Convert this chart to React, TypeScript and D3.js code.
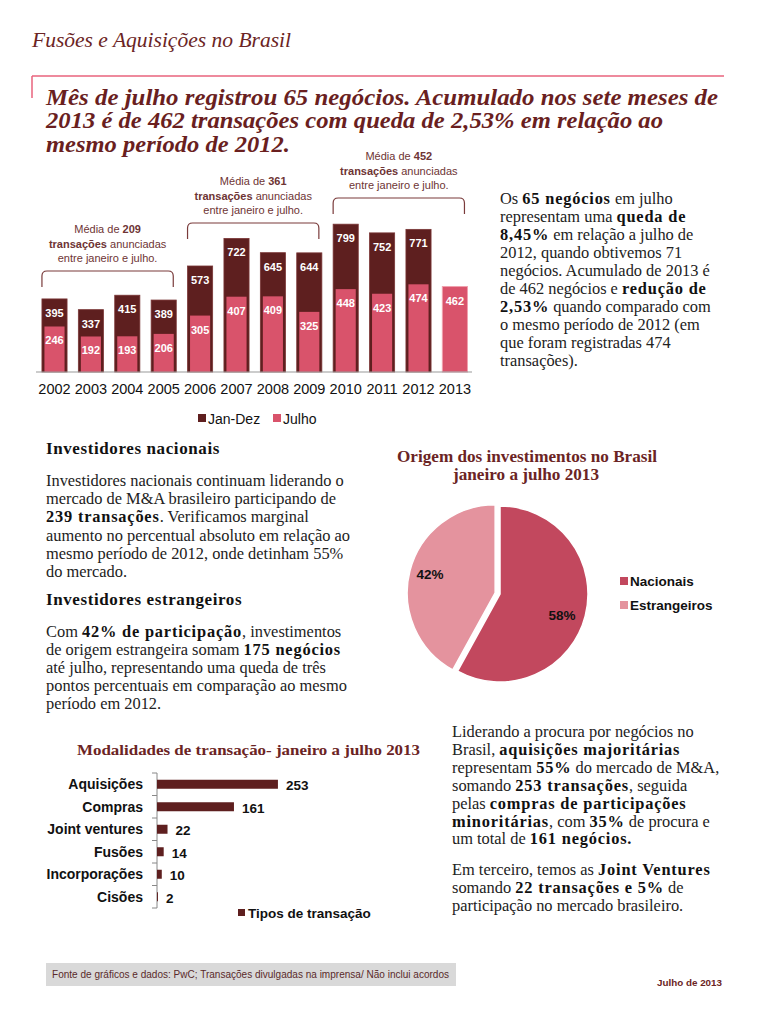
import React from "react";
import * as d3 from "d3";

const years = ["2002","2003","2004","2005","2006","2007","2008","2009","2010","2011","2012","2013"];
const janDez: (number | null)[] = [395,337,415,389,573,722,645,644,799,752,771,null];
const julho = [246,192,193,206,305,407,409,325,448,423,474,462];
const groupAverages = [209, 361, 452];
const groupStart = ["2002","2006","2010"];
const groupEnd = ["2005","2009","2013"];

const pieLabels = ["Nacionais","Estrangeiros"];
const pieValues = [58, 42];

const tipos = ["Aquisições","Compras","Joint ventures","Fusões","Incorporações","Cisões"];
const tiposValues = [253,161,22,14,10,2];

type Seg = [string, boolean?];
const rightPara: Seg[][] = [
  [["Os "],["65 negócios",true],[" em julho"]],
  [["representam uma "],["queda de",true]],
  [["8,45%",true],[" em relação a julho de"]],
  [["2012, quando obtivemos 71"]],
  [["negócios. Acumulado de 2013 é"]],
  [["de 462  negócios e  "],["redução de",true]],
  [["2,53%",true],[" quando comparado com"]],
  [["o mesmo período de 2012 (em"]],
  [["que foram registradas 474"]],
  [["transações)."]],
];
const nacPara: Seg[][] = [
  [["Investidores nacionais continuam liderando o"]],
  [["mercado de M&A brasileiro participando de"]],
  [["239 transações",true],[".  Verificamos marginal"]],
  [["aumento no percentual absoluto em relação ao"]],
  [["mesmo período de 2012, onde detinham 55%"]],
  [["do mercado."]],
];
const estPara: Seg[][] = [
  [["Com "],["42% de participação",true],[", investimentos"]],
  [["de origem estrangeira somam "],["175 negócios",true]],
  [["até julho, representando uma queda de três"]],
  [["pontos percentuais em comparação ao mesmo"]],
  [["período em 2012."]],
];
const modPara1: Seg[][] = [
  [["Liderando a procura por negócios no"]],
  [["Brasil, "],["aquisições majoritárias",true]],
  [["representam "],["55%",true],[" do mercado de M&A,"]],
  [["somando "],["253 transações",true],[", seguida"]],
  [["pelas "],["compras de participações",true]],
  [["minoritárias",true],[", com "],["35%",true],[" de procura e"]],
  [["um total de "],["161 negócios.",true]],
];
const modPara2: Seg[][] = [
  [["Em terceiro, temos as "],["Joint Ventures",true]],
  [["somando "],["22 transações e 5%",true],[" de"]],
  [["participação no mercado brasileiro."]],
];

const SERIF = "'Liberation Serif', 'Times New Roman', serif";
const SANS = "'Liberation Sans', Arial, sans-serif";
const DARK = "#5e1f1f";
const PINK = "#d9536b";
const TITLE = "#6b2424";
const BODY = 16.4;

function Para({ lines, x, y, lh, size }: { lines: Seg[][]; x: number; y: number; lh: number; size: number }) {
  return (
    <text x={x} y={y} fontFamily={SERIF} fontSize={size} fill="#1a1a1a">
      {lines.map((line, i) => (
        <tspan key={i} x={x} y={y + i * lh}>
          {line.map((s, j) => (
            <tspan key={j} fontWeight={s[1] ? "bold" : "normal"} letterSpacing={s[1] ? 0.8 : 0} fill={s[1] ? "#111" : "#222"}>{s[0]}</tspan>
          ))}
        </tspan>
      ))}
    </text>
  );
}

export default function App() {
  // top bar chart
  const x = d3.scaleBand<string>().domain(years).range([36.3, 36.3 + 36.4 * 12]).paddingInner(0.31).paddingOuter(0.155);
  const y = d3.scaleLinear().domain([0, 1000]).range([372, 187]);
  const bw = x.bandwidth();
  const bracketTops = [271, 223, 198];

  // pie
  const pie = d3.pie<number>().sort(null).value((d) => d)(pieValues);
  const R = 88;
  const arc = d3.arc<d3.PieArcDatum<number>>().innerRadius(0).outerRadius(R);
  const cx = 500, cy = 594;
  const pieColors = ["#c2485e", "#e4939e"];
  const labelArc = d3.arc<d3.PieArcDatum<number>>().innerRadius(R * 0.72).outerRadius(R * 0.72);

  // bottom bar chart
  const yb = d3.scaleBand<string>().domain(tipos).range([773, 908]).paddingInner(0.6).paddingOuter(0.3);
  const xb = d3.scaleLinear().domain([0, 300]).range([157, 157 + 143.4]);
  const step = (908 - 773) / tipos.length;

  return (
    <svg width={768} height={1024} style={{ position: "absolute", left: 0, top: 0, background: "#fff" }}>
      <rect width={768} height={1024} fill="#fff" />
      <text x={32} y={47} fontFamily={SERIF} fontStyle="italic" fontSize={21} fill={TITLE} textLength={259} lengthAdjust="spacingAndGlyphs">Fusões e Aquisições no Brasil</text>
      <line x1={32} x2={724} y1={76} y2={76} stroke="#e8637c" strokeWidth={1.5} />
      <line x1={32} x2={32} y1={76} y2={98} stroke="#e8637c" strokeWidth={1.5} />
      <g fontFamily={SERIF} fontStyle="italic" fontWeight="bold" fontSize={23} fill="#6a1f1f">
        <text x={46} y={105} textLength={672} lengthAdjust="spacingAndGlyphs">Mês de julho registrou 65 negócios. Acumulado nos sete meses de</text>
        <text x={46} y={128} textLength={617} lengthAdjust="spacingAndGlyphs">2013 é de 462 transações com queda de 2,53% em relação ao</text>
        <text x={46} y={152} textLength={244} lengthAdjust="spacingAndGlyphs">mesmo período de 2012.</text>
      </g>

      {/* Top bar chart */}
      <g>
        {years.map((yr, i) => {
          const v = janDez[i];
          const x0 = x(yr)!;
          return (
            <g key={yr}>
              {v != null && (
                <rect x={x0} y={y(v)} width={bw} height={y(0) - y(v)} fill={DARK} stroke="#7a3636" strokeWidth={0.8} />
              )}
              <rect
                x={v != null ? x0 + 2.5 : x0}
                y={y(julho[i])}
                width={v != null ? bw - 5 : bw}
                height={y(0) - y(julho[i])}
                fill={PINK}
                stroke={v != null ? "none" : "#f0a0ad"}
                strokeWidth={1}
              />
            </g>
          );
        })}
        <line x1={36} x2={472} y1={372} y2={372} stroke="#999" strokeWidth={1} />
        {years.map((yr, i) => {
          const v = janDez[i];
          const c = x(yr)! + bw / 2;
          return (
            <g key={"l" + yr} fontFamily={SANS} fontWeight="bold" fontSize={11} fill="#fff" textAnchor="middle">
              {v != null && <text x={c} y={y(v) + 18}>{v}</text>}
              <text x={c} y={y(julho[i]) + 18}>{julho[i]}</text>
            </g>
          );
        })}
        {years.map((yr) => (
          <text key={"t" + yr} x={x(yr)! + bw / 2} y={394} textAnchor="middle" fontFamily={SANS} fontSize={14.5} fill="#111">{yr}</text>
        ))}
        {groupAverages.map((avg, i) => {
          const xa = x(groupStart[i])!;
          const xe = x(groupEnd[i])! + bw - 3;
          const t = bracketTops[i];
          const r = 5;
          const p = `M${xa},${t + 16} L${xa},${t + r} Q${xa},${t} ${xa + r},${t} L${xe - r},${t} Q${xe},${t} ${xe},${t + r} L${xe},${t + 16}`;
          const mid = (xa + xe) / 2;
          return (
            <g key={"b" + i}>
              <path d={p} fill="none" stroke="#7a3b3b" strokeWidth={1.2} />
              <g fontFamily={SANS} fontSize={11} fill="#6e3434" textAnchor="middle">
                <text x={mid} y={t - 38}>Média de <tspan fontWeight="bold">{avg}</tspan></text>
                <text x={mid} y={t - 23.5}><tspan fontWeight="bold">transações</tspan> anunciadas</text>
                <text x={mid} y={t - 9}>entre janeiro e julho.</text>
              </g>
            </g>
          );
        })}
        <g fontFamily={SANS} fontSize={14} fill="#111">
          <rect x={198} y={414} width={8} height={8} fill={DARK} />
          <text x={208} y={424}>Jan-Dez</text>
          <rect x={273} y={414} width={8} height={8} fill={PINK} />
          <text x={283} y={424}>Julho</text>
        </g>
      </g>

      <Para lines={rightPara} x={500} y={204} lh={18} size={BODY} />

      <text x={46} y={454} fontFamily={SERIF} fontWeight="bold" fontSize={17} letterSpacing={0.6} fill="#111">Investidores nacionais</text>
      <Para lines={nacPara} x={46} y={486} lh={18.2} size={BODY} />
      <text x={46} y={605} fontFamily={SERIF} fontWeight="bold" fontSize={17} letterSpacing={0.6} fill="#111">Investidores estrangeiros</text>
      <Para lines={estPara} x={46} y={637} lh={18} size={BODY} />

      {/* Pie */}
      <g fontFamily={SERIF} fontWeight="bold" fontSize={16} fill={TITLE}>
        <text x={397} y={462} textLength={260} lengthAdjust="spacingAndGlyphs">Origem dos investimentos no Brasil</text>
        <text x={453} y={480} textLength={146} lengthAdjust="spacingAndGlyphs">janeiro a julho 2013</text>
      </g>
      <g transform={`translate(${cx},${cy})`}>
        {pie.map((d, i) => {
          const [mx, my] = arc.centroid(d);
          const len = Math.hypot(mx, my);
          const off = i === 1 ? 5 : 0;
          return (
            <path key={i} d={arc(d)!} transform={`translate(${(mx / len) * off},${(my / len) * off})`} fill={pieColors[i]} stroke="#fff" strokeWidth={1.5} />
          );
        })}
        <g fontFamily={SANS} fontWeight="bold" fontSize={13.5} fill="#111" textAnchor="middle">
          {pie.map((d, i) => {
            const [lx, ly] = labelArc.centroid(d);
            return <text key={i} x={i === 0 ? 62 : -70} y={i === 0 ? 26 : -15}>{pieValues[i]}%</text>;
          })}
        </g>
      </g>
      <g fontFamily={SANS} fontWeight="bold" fontSize={13.5} fill="#111">
        {pieLabels.map((l, i) => (
          <g key={l}>
            <rect x={620} y={577 + i * 24} width={8} height={8} fill={pieColors[i]} />
            <text x={630} y={586 + i * 24}>{l}</text>
          </g>
        ))}
      </g>

      <Para lines={modPara1} x={452} y={737} lh={17.9} size={BODY} />
      <Para lines={modPara2} x={452} y={875} lh={18} size={BODY} />

      {/* Bottom bar chart */}
      <text x={77} y={755} fontFamily={SERIF} fontWeight="bold" fontSize={15.5} fill={TITLE} textLength={343} lengthAdjust="spacingAndGlyphs">Modalidades de transação- janeiro a julho 2013</text>
      <line x1={157} x2={157} y1={773} y2={908} stroke="#888" strokeWidth={1} />
      {d3.range(tipos.length + 1).map((i) => (
        <line key={i} x1={152} x2={157} y1={773 + i * step} y2={773 + i * step} stroke="#888" strokeWidth={1} />
      ))}
      {tipos.map((t, i) => (
        <g key={t}>
          <rect x={xb(0)} y={yb(t)!} width={xb(tiposValues[i]) - xb(0)} height={yb.bandwidth()} fill={DARK} />
          <text x={143} y={yb(t)! + yb.bandwidth() / 2 + 5} textAnchor="end" fontFamily={SANS} fontWeight="bold" fontSize={14} fill="#111">{t}</text>
          <text x={xb(tiposValues[i]) + 8} y={yb(t)! + yb.bandwidth() / 2 + 6} fontFamily={SANS} fontWeight="bold" fontSize={13.5} fill="#111">{tiposValues[i]}</text>
        </g>
      ))}
      <rect x={238} y={909} width={7} height={7} fill={DARK} />
      <text x={248} y={918} fontFamily={SANS} fontWeight="bold" fontSize={13.5} fill="#111">Tipos de transação</text>

      {/* Footer */}
      <rect x={46} y={963} width={410} height={23} fill="#d9d9d9" />
      <text x={52} y={978} fontFamily={SANS} fontSize={10} fill="#5a2a2a" textLength={397} lengthAdjust="spacingAndGlyphs">Fonte de gráficos e dados: PwC; Transações divulgadas na imprensa/ Não inclui acordos</text>
      <text x={657} y={986} fontFamily={SANS} fontWeight="bold" fontSize={9.5} fill="#6b2424" textLength={65} lengthAdjust="spacingAndGlyphs">Julho de 2013</text>
    </svg>
  );
}
